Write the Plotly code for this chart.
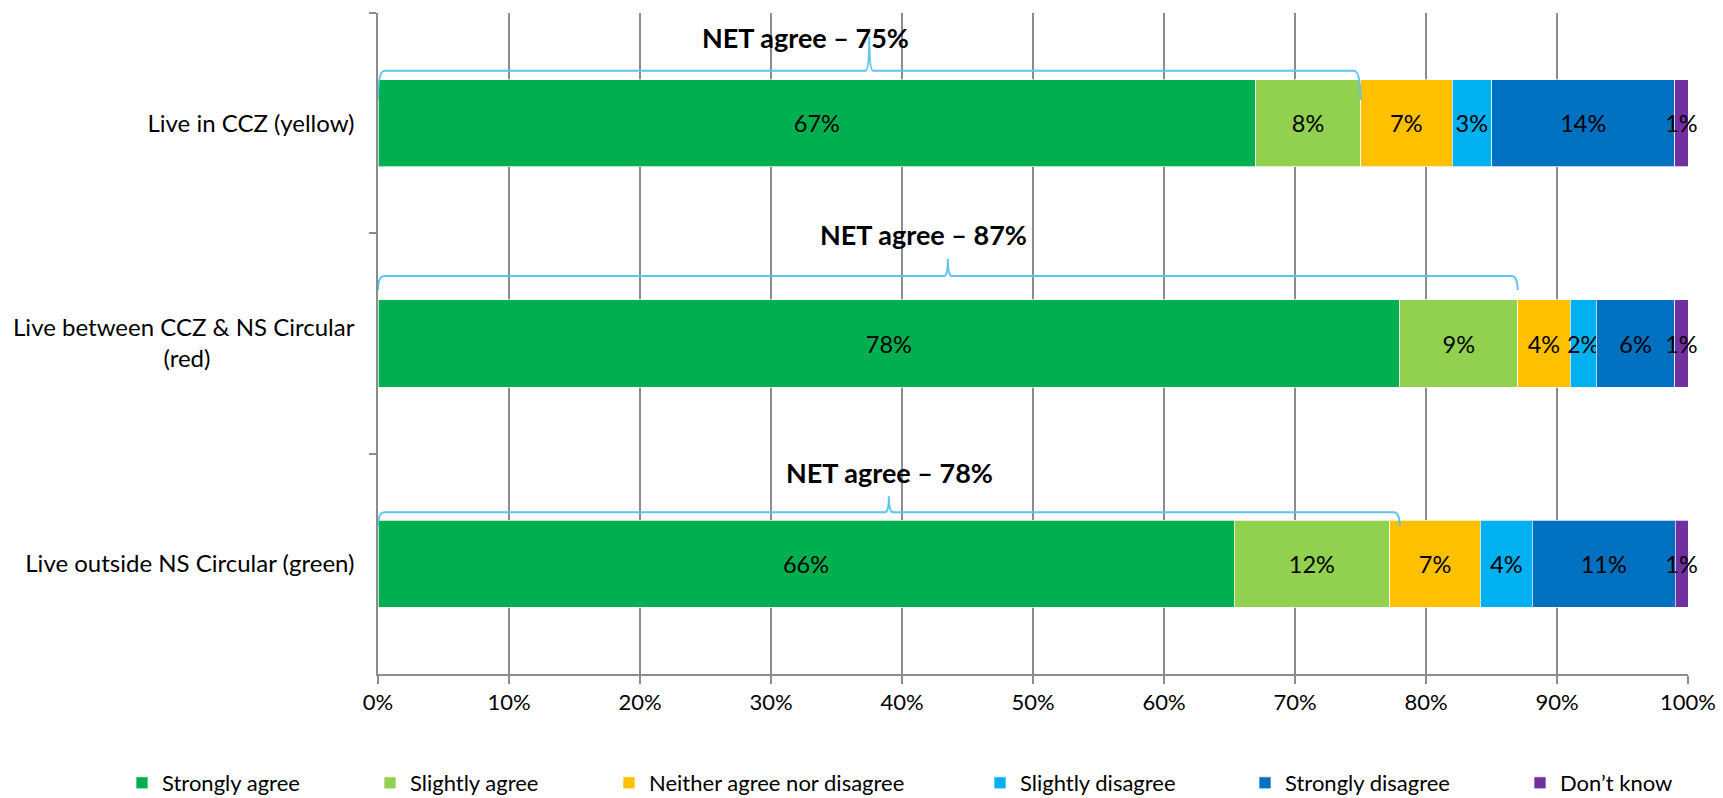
import plotly.graph_objects as go

# Survey groups (top to bottom) and answer shares in percent
groups = [
    "Live in CCZ (yellow)",
    "Live between CCZ & NS Circular<br>(red)" + "\u2003" * 8,
    "Live outside NS Circular (green)",
]
answers = [
    "Strongly agree",
    "Slightly agree",
    "Neither agree nor disagree",
    "Slightly disagree",
    "Strongly disagree",
    "Don\u2019t know",
]
strongly_agree = [67, 78, 66]
slightly_agree = [8, 9, 12]
neither = [7, 4, 7]
slightly_disagree = [3, 2, 4]
strongly_disagree = [14, 6, 11]
dont_know = [1, 1, 1]
net_agree = [75, 87, 78]
x_ticks = [0, 10, 20, 30, 40, 50, 60, 70, 80, 90, 100]

series = [strongly_agree, slightly_agree, neither, slightly_disagree,
          strongly_disagree, dont_know]
colors = ["#00B050", "#92D050", "#FFC000", "#00B0F0", "#0070C0", "#7030A0"]

FONT = "Lato, 'Open Sans', sans-serif"
W, H = 1723, 798
M_L, M_R, M_T, M_B = 378, 35, 13, 124
plot_h = H - M_T - M_B
px_per_cat = plot_h / 3.0
bar_w = 0.395

fig = go.Figure()
legend_names = ["legend", "legend2", "legend3", "legend4", "legend5", "legend6"]
for name, vals, col, lg in zip(answers, series, colors, legend_names):
    fig.add_trace(go.Bar(
        y=groups, x=vals, name=name, orientation="h",
        marker=dict(color=col, line=dict(color="rgba(255,255,255,0.7)", width=1)),
        text=vals, texttemplate="%{text}%", textposition="inside",
        insidetextanchor="middle", constraintext="none", cliponaxis=False,
        textangle=0,
        textfont=dict(family=FONT, size=23.5, color="#000000"),
        legend=lg, showlegend=True, hoverinfo="skip",
    ))

# Curly braces marking the NET agree share above each bar
brace_line = [-9, -24, -8]     # px above bar top
brace_peak = [-43, -41, -24]
brace_hook = [20, -10, 6]
label_off = [-42, -65, -48]
label_shift = [-64, -24, 1]
dx = 0.5
dpk = 0.3
shapes = []
annotations = []
for i, net in enumerate(net_agree):
    top = i - bar_w / 2
    yl = top + brace_line[i] / px_per_cat
    yp = top + brace_peak[i] / px_per_cat
    yh = top + brace_hook[i] / px_per_cat
    x0, x1, xm = 0.0, float(net), net / 2.0
    path = (f"M {x0},{yh} Q {x0},{yl} {x0 + dx},{yl} "
            f"L {xm - dpk},{yl} Q {xm},{yl} {xm},{yp} "
            f"Q {xm},{yl} {xm + dpk},{yl} "
            f"L {x1 - dx},{yl} Q {x1},{yl} {x1},{yh}")
    shapes.append(dict(type="path", path=path, xref="x", yref="y",
                       line=dict(color="#5BC4EF", width=2), layer="above"))
    annotations.append(dict(
        x=xm, y=top + label_off[i] / px_per_cat, xref="x", yref="y",
        text=f"<b>NET agree \u2013 {net}%</b>", showarrow=False,
        xshift=label_shift[i], xanchor="center", yanchor="middle",
        font=dict(family=FONT, size=27, color="#000000"),
    ))

# One legend per answer so each entry sits at its own position
legend_text_x = [162, 410, 649, 1020, 1285, 1560]
legends = {}
for lg, tx in zip(legend_names, legend_text_x):
    legends[lg] = dict(
        x=(tx - 40 - M_L) / (W - M_L - M_R), xanchor="left",
        y=(M_T + plot_h - 783) / plot_h, yanchor="middle",
        orientation="h", bgcolor="rgba(0,0,0,0)",
        font=dict(family=FONT, size=22, color="#000000"),
        itemclick=False, itemdoubleclick=False,
    )

fig.update_layout(
    width=W, height=H,
    margin=dict(l=M_L, r=M_R, t=M_T, b=M_B, pad=0, autoexpand=False),
    barmode="stack", barnorm="percent", bargap=1 - bar_w,
    plot_bgcolor="#FFFFFF", paper_bgcolor="#FFFFFF",
    showlegend=True,
    shapes=shapes, annotations=annotations,
    font=dict(family=FONT, size=22, color="#000000"),
    **legends,
)
fig.update_xaxes(
    range=[0, 100], tickvals=x_ticks, ticktext=[f"{v}%" for v in x_ticks],
    showgrid=True, gridcolor="#8C8C8C", gridwidth=1.5,
    showline=True, linecolor="#8C8C8C", linewidth=1.5,
    ticks="outside", ticklen=8, tickcolor="#8C8C8C", tickwidth=1.5,
    zeroline=False, fixedrange=True,
    tickfont=dict(family=FONT, size=22, color="#000000"),
)
fig.update_yaxes(
    type="category", autorange=False, range=[2.5, -0.5],
    tickson="boundaries", ticks="outside", ticklen=7,
    tickcolor="#8C8C8C", tickwidth=1.5,
    showline=True, linecolor="#8C8C8C", linewidth=1.5,
    showgrid=False, fixedrange=True, ticklabelstandoff=17,
    tickfont=dict(family=FONT, size=24, color="#000000"),
)

fig.write_html("out.html")
